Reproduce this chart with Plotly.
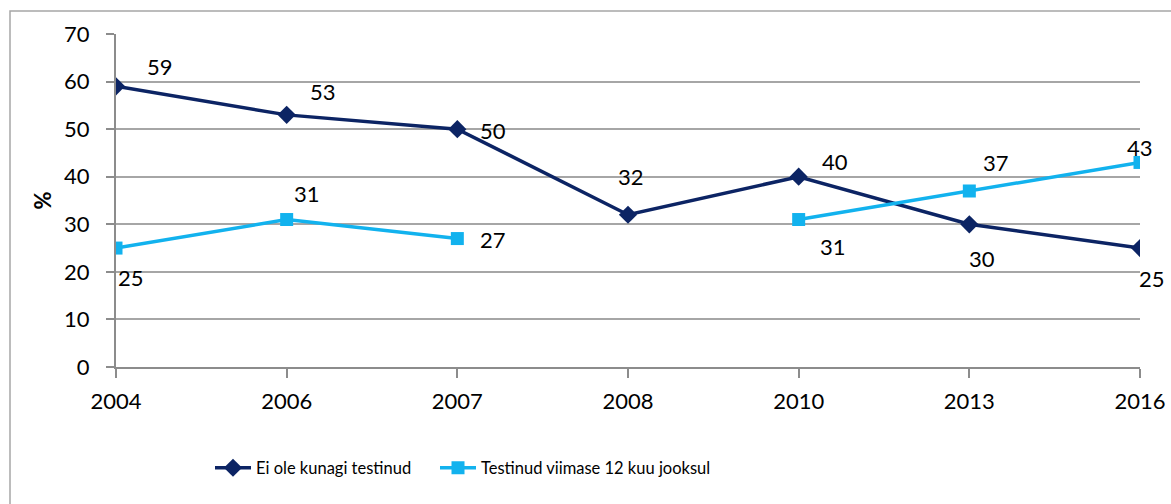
import plotly.graph_objects as go

years = ["2004", "2006", "2007", "2008", "2010", "2013", "2016"]
never_tested = [59, 53, 50, 32, 40, 30, 25]
tested_12m = [25, 31, 27, None, 31, 37, 43]
name1 = "Ei ole kunagi testinud"
name2 = "Testinud viimase 12 kuu jooksul"

# label offsets (pixels, x right / y up) per point
off1 = [(44, 20), (36, 23), (36, -1), (3, 38), (36, 15), (13, -34), (12, -30)]
off2 = [(15, -29), (20, 26), (36, -1), None, (34, -27), (27, 28), (0, 15)]

dark = "#0c2464"
light = "#12b2ee"
font = "Lato, 'Open Sans', sans-serif"

# target plot area in page px: x 116..1140, y 34..367 (body margin removed)
W, H = 1171, 504
L, T = 116, 34
R = W - 1140
B = H - 367
PW, PH = W - L - R, H - T - B


def px_x(p):
    return (p - 116) / PW


def px_y(p):
    return (367 - p) / PH


fig = go.Figure()
fig.add_trace(go.Scatter(x=years, y=never_tested, name=name1, mode="lines+markers",
                         line=dict(color=dark, width=3.5),
                         marker=dict(symbol="diamond", size=14, color=dark),
                         legend="legend"))
fig.add_trace(go.Scatter(x=years, y=tested_12m, name=name2, mode="lines+markers",
                         line=dict(color=light, width=3.5),
                         marker=dict(symbol="square", size=13, color=light),
                         connectgaps=False, legend="legend2"))

anns = []
for i, (y, o) in enumerate(zip(never_tested, off1)):
    anns.append(dict(x=i, y=y, xref="x", yref="y", text=str(y), showarrow=False,
                     xshift=o[0], yshift=o[1], font=dict(size=22, color="#000")))
for i, (y, o) in enumerate(zip(tested_12m, off2)):
    if y is None:
        continue
    anns.append(dict(x=i, y=y, xref="x", yref="y", text=str(y), showarrow=False,
                     xshift=o[0], yshift=o[1], font=dict(size=22, color="#000")))

leg_common = dict(orientation="h", xanchor="left", yanchor="middle", y=px_y(468),
                  font=dict(size=16.5, family=font), itemwidth=36, bgcolor="rgba(0,0,0,0)")

fig.update_layout(
    width=W, height=H,
    margin=dict(l=L, r=R, t=T, b=B, autoexpand=False),
    paper_bgcolor="white", plot_bgcolor="white",
    font=dict(family=font, size=22, color="#000"),
    annotations=anns,
    showlegend=True,
    legend=dict(x=px_x(210), **leg_common),
    legend2=dict(x=px_x(435), **leg_common),
    xaxis=dict(type="category", range=[0, 6], showgrid=False, showline=True,
               linecolor="#8c8c8c", linewidth=2, ticks="outside", ticklen=9,
               tickcolor="#8c8c8c", tickwidth=1.5, tickfont=dict(size=22),
               ticklabelstandoff=5),
    yaxis=dict(range=[0, 70], dtick=10, showgrid=True, gridcolor="#a6a6a6", gridwidth=1.5,
               showline=True, linecolor="#8c8c8c", linewidth=2, ticks="outside", ticklen=8,
               tickcolor="#8c8c8c", tickwidth=1.5, tickfont=dict(size=22), zeroline=False,
               ticklabelstandoff=12,
               title=dict(text="<b>%</b>", font=dict(size=22), standoff=6)),
    shapes=[dict(type="rect", xref="paper", yref="paper",
                 x0=px_x(10), x1=px_x(1200),
                 y0=px_y(540), y1=px_y(11),
                 line=dict(color="#a6a6a6", width=1.5), layer="below")],
)

fig.write_html("out.html", config={"displayModeBar": False},
               post_script="document.body.style.margin='0';document.body.style.overflow='hidden';")
